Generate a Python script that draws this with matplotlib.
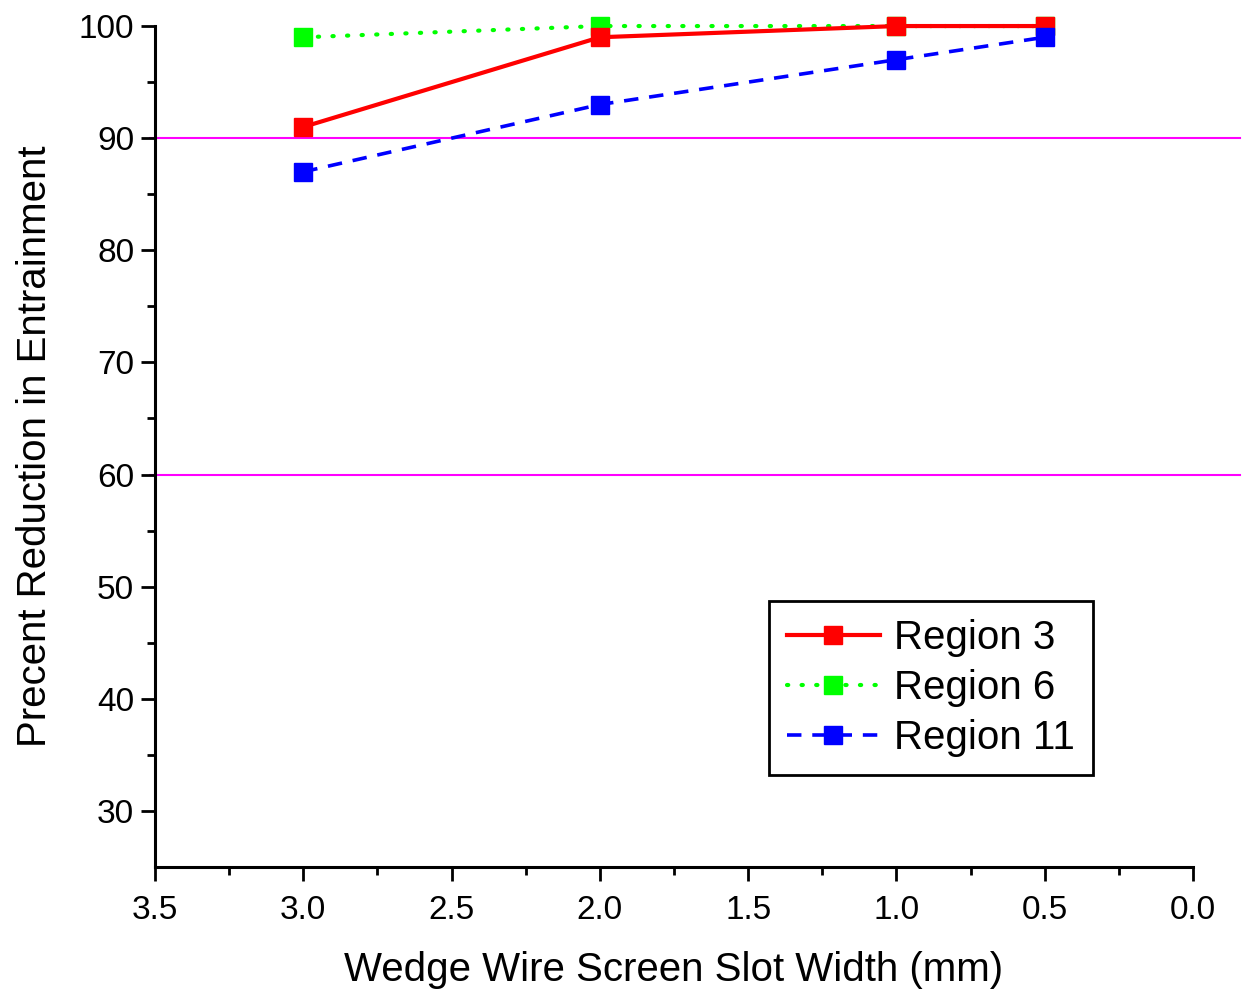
import matplotlib.pyplot as plt

plt.rcParams['font.family'] = ['Liberation Sans', 'DejaVu Sans']

# slot widths (mm) and percent reduction per region
slot_width = [3.0, 2.0, 1.0, 0.5]
region_3 = [91, 99, 100, 100]
region_6 = [99, 100, 100, 100]
region_11 = [87, 93, 97, 99]
thresholds = [90, 60]

fig = plt.figure(figsize=(12.43, 9.98), dpi=100)
ax = fig.add_axes([0.1247, 0.1313, 0.8351, 0.8426])

# reference lines, running a little past the right end of the axis
for t in thresholds:
    ax.axhline(t, xmin=-0.005, xmax=1.045, color='#ff00ff', lw=1.5, clip_on=False, zorder=1)

ax.plot(slot_width, region_3, color='#ff0000', lw=3, marker='s', ms=12.5,
        label='Region 3', clip_on=False, zorder=3)
ax.plot(slot_width, region_6, color='#00ff00', lw=3, ls=(0, (0.3, 3.2)),
        dash_capstyle='round', marker='s', ms=12.5, label='Region 6', clip_on=False, zorder=2)
ax.plot(slot_width, region_11, color='#0000ff', lw=2.6, ls=(0, (4, 3)),
        marker='s', ms=12.5, label='Region 11', clip_on=False, zorder=4)

ax.set_xlim(3.5, 0.0)
ax.set_ylim(25, 100)
ax.set_xticks([3.5, 3.0, 2.5, 2.0, 1.5, 1.0, 0.5, 0.0])
ax.set_xticks([3.25, 2.75, 2.25, 1.75, 1.25, 0.75, 0.25], minor=True)
ax.set_yticks([30, 40, 50, 60, 70, 80, 90, 100])
ax.set_yticks([35, 45, 55, 65, 75, 85, 95], minor=True)
ax.xaxis.set_major_formatter(plt.FormatStrFormatter('%.1f'))

for s in ['top', 'right']:
    ax.spines[s].set_visible(False)
for s in ['left', 'bottom']:
    ax.spines[s].set_linewidth(2.2)

ax.tick_params(which='major', direction='out', length=10, width=2, labelsize=24, pad=5)
ax.tick_params(axis='x', which='major', pad=10)
ax.tick_params(which='minor', direction='out', length=6, width=2)

ax.set_xlabel('Wedge Wire Screen Slot Width (mm)', fontsize=29, labelpad=18)
ax.set_ylabel('Precent Reduction in Entrainment', fontsize=29, labelpad=18)

leg = ax.legend(loc='lower left', bbox_to_anchor=(0.5915, 0.1094), fontsize=29,
                frameon=True, fancybox=False, edgecolor='black', framealpha=1,
                handlelength=2.3, borderpad=0.45, labelspacing=0.3, handletextpad=0.35,
                borderaxespad=0)
leg.get_frame().set_linewidth(2)

fig.savefig('out.png', dpi=100)
